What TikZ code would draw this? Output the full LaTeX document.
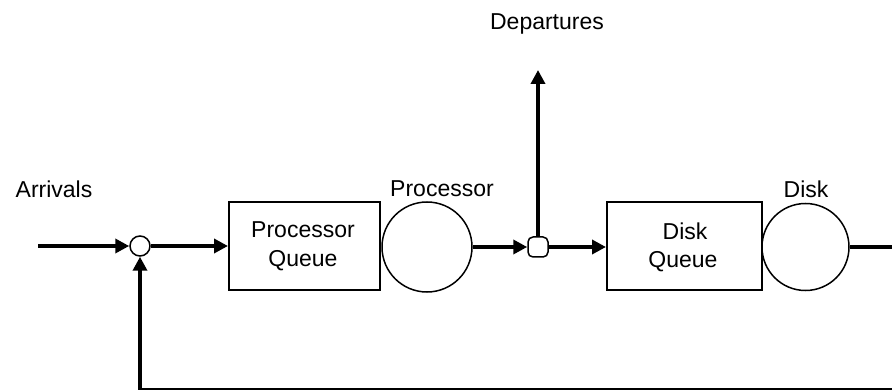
\documentclass[tikz,border=0pt]{standalone}
\usepackage{fontspec}
\setmainfont{Liberation Sans}
\usetikzlibrary{arrows.meta}
\begin{document}
\begin{tikzpicture}[x=1pt,y=-1pt,
  font=\fontsize{23}{26}\selectfont,
  flow/.style={line width=4pt,-{Triangle[length=14pt,width=14pt]}},
  plain/.style={line width=4pt},
  qbox/.style={draw,line width=2pt,minimum width=151pt,minimum height=88pt,inner sep=0pt,align=center},
  server/.style={draw,circle,line width=1.5pt,inner sep=0pt},
  lbl/.style={inner sep=0pt,anchor=base}
]
\useasboundingbox (0,0) rectangle (892,390);
\clip (0,0) rectangle (892,390);
\fill[white] (0,0) rectangle (892,390);

% junctions
\node[server,minimum size=20pt] (j1) at (140,246) {};
\node[draw,line width=1.5pt,rounded corners=5pt,minimum size=20pt,inner sep=0pt] (j2) at (538,247) {};

% queues and servers
\node[qbox] (pq) at (304.5,246) {};
\node[server,minimum size=90pt] (ps) at (427,247) {};
\node[qbox,minimum width=155pt] (dq) at (684.5,246.5) {};
\node[server,minimum size=87pt] (ds) at (805.5,247) {};

% texts
\node[lbl] (tpq1) at (303,238) {Processor};
\node[lbl] (tpq2) at (303,267) {Queue};
\node[lbl] (tdq1) at (685,240) {Disk};
\node[lbl] (tdq2) at (683,268) {Queue};
\node[lbl] (larr) at (54,198) {Arrivals};
\node[lbl] (ldep) at (547,30) {Departures};
\node[lbl] (lps) at (442,197) {Processor};
\node[lbl] (lds) at (806,198) {Disk};

% connectors
\coordinate (in) at (38,246);
\coordinate (out) at (538,70);
\coordinate (cR) at (900,247);
\coordinate (cB) at (900,390);
\draw[flow] (in) -- (j1.west);
\draw[flow] (j1.east) -- (pq.west |- j1.east);
\draw[flow] (ps.east) -- (j2.west);
\draw[flow] (j2.north) -- (out);
\draw[flow] (j2.east) -- (dq.west |- j2.east);
\draw[flow] (ds.east) -- (cR) -- (cB) -| (j1.south);
\end{tikzpicture}
\end{document}
